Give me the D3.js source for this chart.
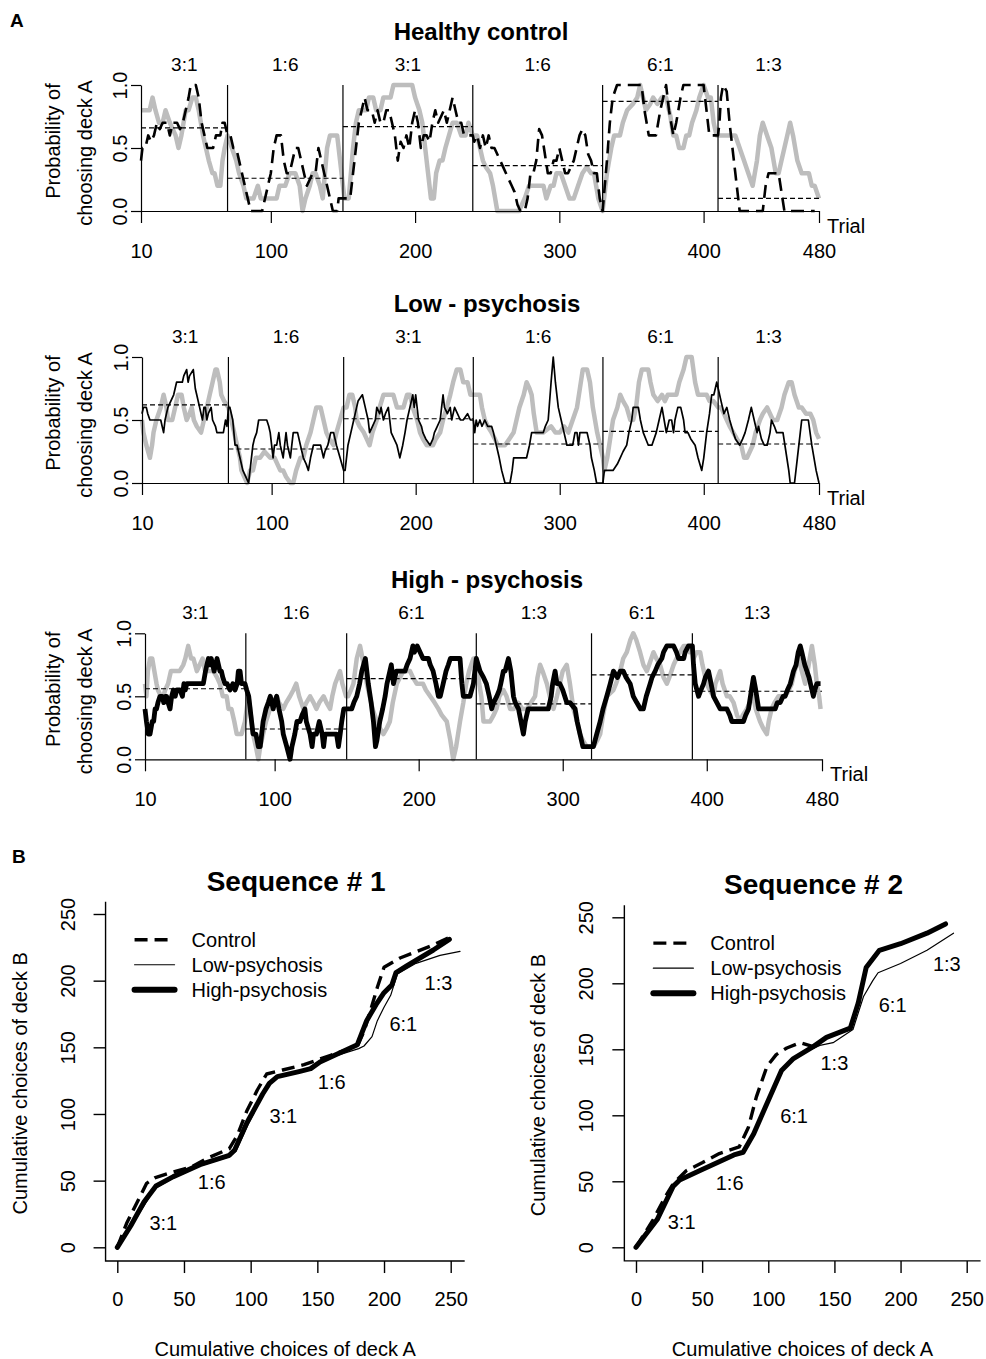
<!DOCTYPE html>
<html>
<head>
<meta charset="utf-8">
<script src="https://cdn.jsdelivr.net/npm/d3@7"></script>
<style>
  body { margin: 0; background: #fff; }
  svg { display: block; }
</style>
</head>
<body>
<div id="chart"></div>
<script>

// ---- panel A data: moving probability of choosing deck A, [trial, value] ----

let trialTicks = [10, 100, 200, 300, 400, 480];
let probTicks = [0, 0.5, 1];

let hcBounds = [70, 150, 240, 330, 410];
let hcBlocks = ["3:1", "1:6", "3:1", "1:6", "6:1", "1:3"];
let hcMeans = [0.66, 0.26, 0.67, 0.36, 0.87, 0.10];

let hcGray = [
  [10,0.8],[16,0.8],[18,0.9],[20,0.8],[22.5,0.7],[25,0.7],[27,0.8],[30,0.7],[32,0.65],[34,0.6],[36,0.5],[38,0.6],
  [41,0.8],[43,0.8],[45.6,0.9],[48,0.9],[50,0.8],[53,0.6],[55,0.5],[57,0.4],[59.5,0.3],[61,0.3],[63,0.2],[65,0.2],
  [66.5,0.4],[68,0.5],[70,0.6],[73,0.5],[76,0.4],[78,0.3],[81,0.2],[83,0.1],[88,0.1],[91,0.2],[93,0.1],[104,0.1],
  [106,0.2],[110,0.2],[113,0.3],[117,0.3],[120,0.2],[122,0.0],[124,0.1],[127,0.2],[129,0.3],[131,0.3],[134,0.2],
  [136,0.1],[137.5,0.3],[139,0.5],[141,0.6],[146,0.6],[148,0.4],[150,0.2],[151,0.1],[154,0.1],[157,0.5],[159,0.7],
  [161,0.8],[166,0.8],[168,0.9],[171,0.9],[173,0.8],[176,0.8],[178,0.9],[183,0.9],[185,1.0],[198,1.0],[200,0.9],
  [203,0.8],[205,0.7],[207,0.5],[209,0.3],[211,0.1],[213,0.1],[214.6,0.3],[217,0.4],[219,0.4],[221,0.5],[223.5,0.6],
  [226,0.7],[229,0.7],[232,0.6],[235,0.6],[237,0.7],[240,0.6],[243,0.6],[245,0.5],[247,0.4],[249,0.35],[252,0.3],
  [254,0.2],[257,0.0],[272,0.0],[276,0.1],[279,0.2],[289,0.2],[291,0.1],[294,0.2],[296,0.2],[298,0.3],[301,0.3],
  [304,0.2],[307,0.1],[310,0.1],[313,0.2],[316,0.3],[319,0.35],[322,0.3],[324,0.3],[327,0.1],[330,0.0],[331,0.1],
  [333,0.3],[336,0.5],[338,0.6],[342,0.6],[344,0.7],[347,0.8],[351,0.85],[354,0.9],[356,1.0],[358,0.9],[360,0.8],
  [363,0.85],[365,0.9],[368,0.85],[371,0.9],[374,0.9],[377,0.75],[379,0.6],[381,0.6],[383,0.5],[386,0.5],[388,0.6],
  [390,0.6],[392,0.7],[395,0.8],[397,0.9],[400,1.0],[403,0.9],[405,0.9],[407,0.7],[409,0.6],[412,0.6],[422,0.6],
  [425,0.5],[428,0.4],[431,0.3],[434,0.2],[437,0.4],[439,0.6],[441,0.7],[444,0.6],[447,0.5],[450,0.3],[452,0.3],
  [454,0.4],[456,0.5],[458,0.6],[460,0.7],[462,0.6],[465,0.4],[468,0.3],[473,0.3],[475,0.2],[477,0.2],[480,0.1]
];

let hcBlack = [
  [10,0.4],[11,0.5],[13,0.5],[15,0.6],[17,0.55],[19,0.6],[21,0.7],[23,0.65],[25,0.7],[28,0.7],[30,0.6],[32,0.7],
  [35,0.7],[37,0.65],[39,0.7],[41,0.8],[43,0.9],[44.5,1.0],[48,1.0],[50,0.9],[52,0.7],[54,0.6],[56,0.5],[60,0.5],
  [62,0.6],[65,0.6],[66.5,0.7],[68,0.7],[70,0.6],[72,0.6],[74,0.5],[76,0.5],[78,0.4],[80,0.3],[82,0.2],[84,0.1],
  [86,0.0],[94,0.0],[96,0.1],[98,0.2],[100,0.3],[102,0.5],[104,0.6],[107,0.6],[109,0.4],[111,0.3],[113,0.3],
  [115,0.4],[117,0.5],[119,0.5],[121,0.4],[123,0.3],[125,0.2],[127,0.25],[129,0.3],[131,0.3],[133,0.5],[135,0.4],
  [137,0.3],[139,0.2],[141,0.1],[143,0.0],[146,0.0],[147,0.1],[150,0.1],[155,0.1],[157,0.3],[159,0.5],[161,0.7],
  [163,0.8],[165,0.9],[167,0.8],[170,0.8],[172,0.7],[174,0.8],[176,0.7],[178,0.7],[180,0.8],[182,0.8],[184,0.7],
  [186,0.6],[188,0.4],[190,0.55],[192,0.5],[194,0.6],[196,0.5],[198,0.7],[200,0.8],[202,0.7],[204,0.5],[206,0.6],
  [208,0.6],[210,0.55],[212,0.7],[214,0.8],[216,0.7],[218,0.75],[220,0.8],[222,0.7],[224,0.8],[226,0.9],[228,0.8],
  [230,0.7],[232,0.7],[234,0.6],[240,0.6],[241,0.55],[243,0.6],[245,0.5],[247,0.6],[249,0.5],[251,0.6],[253,0.5],
  [255,0.5],[257,0.45],[259,0.4],[261,0.35],[263,0.3],[265,0.25],[267,0.2],[269,0.15],[271,0.05],[273,0.0],
  [276,0.0],[278,0.1],[280,0.3],[282,0.3],[284,0.4],[286,0.65],[288,0.6],[290,0.45],[292,0.3],[294,0.3],[296,0.4],
  [298,0.4],[300,0.5],[302,0.4],[304,0.3],[306,0.3],[308,0.35],[310,0.4],[312,0.5],[314,0.6],[316,0.65],[318,0.6],
  [320,0.45],[322,0.4],[324,0.3],[326,0.3],[328,0.1],[330,0.0],[333,0.4],[335,0.7],[337,0.9],[340,1.0],[357,1.0],
  [359,0.8],[362,0.6],[367,0.6],[370,0.8],[374,1.0],[376,0.8],[379,0.6],[381,0.7],[384,0.9],[386,1.0],[400,1.0],
  [402,0.8],[404,0.6],[410,0.6],[411,0.7],[412,0.9],[413.5,1.0],[416,0.95],[418,0.7],[420,0.5],[422,0.3],[424,0.1],
  [425,0.0],[441,0.0],[443,0.2],[445,0.3],[452,0.3],[454,0.15],[456,0.0],[477,0.0]
];

let lpBounds = [70, 150, 240, 330, 410];
let lpBlocks = ["3:1", "1:6", "3:1", "1:6", "6:1", "1:3"];
let lpMeans = [0.62, 0.27, 0.51, 0.31, 0.41, 0.31];

let lpGray = [
  [10,0.5],[11,0.4],[13,0.3],[15.5,0.2],[17,0.3],[18,0.4],[20,0.5],[23,0.6],[25,0.7],[27,0.6],[28,0.5],[31,0.5],
  [33,0.6],[35,0.7],[37.5,0.7],[39,0.6],[41,0.5],[43,0.55],[44.5,0.6],[46,0.5],[48,0.45],[51,0.4],[53,0.5],[55,0.6],
  [57,0.7],[59,0.8],[61,0.9],[62,0.9],[64,0.8],[65,0.7],[67,0.65],[70,0.6],[72,0.5],[74,0.4],[76,0.3],[78,0.2],
  [79,0.1],[81,0.05],[83,0.0],[85,0.1],[87,0.1],[89,0.2],[92,0.2],[95,0.25],[99,0.2],[102,0.2],[104,0.15],[106,0.1],
  [108,0.1],[110,0.05],[113,0.0],[115,0.0],[117,0.1],[120,0.2],[122,0.2],[124,0.3],[127,0.4],[129,0.5],[131,0.6],
  [134,0.6],[136,0.5],[138,0.4],[140,0.35],[143,0.3],[145,0.4],[147.5,0.5],[150,0.6],[152,0.6],[154,0.7],[156,0.7],
  [158,0.6],[159,0.5],[161,0.45],[164,0.4],[166,0.35],[168,0.3],[170,0.4],[173,0.5],[175,0.6],[177.6,0.7],
  [184.5,0.7],[187,0.6],[191.5,0.6],[194,0.7],[196,0.7],[198,0.6],[201,0.5],[203,0.4],[205,0.35],[207.7,0.3],
  [212,0.3],[214,0.35],[217,0.4],[219,0.5],[221.6,0.6],[224,0.7],[226,0.8],[228.5,0.9],[231,0.9],[233,0.8],
  [236,0.8],[238,0.7],[244.6,0.7],[246,0.6],[248,0.5],[250,0.45],[252.7,0.4],[255,0.35],[257,0.3],[262,0.3],
  [265,0.35],[268,0.4],[270,0.5],[272,0.6],[275,0.7],[277,0.8],[279,0.75],[280.5,0.7],[282,0.55],[284,0.4],
  [288.6,0.4],[294,0.45],[297,0.4],[300,0.4],[303,0.45],[306,0.4],[309,0.5],[312,0.6],[314,0.75],[316,0.9],
  [319,0.9],[321,0.8],[323,0.6],[326,0.4],[328,0.3],[330,0.2],[331,0.1],[333,0.2],[335,0.35],[337,0.5],[340,0.6],
  [342,0.7],[344,0.65],[346.5,0.6],[349,0.5],[351,0.5],[353,0.6],[355,0.8],[357,0.9],[361.5,0.9],[363,0.8],
  [365,0.7],[368,0.65],[371,0.7],[373,0.65],[375,0.7],[381,0.7],[383,0.8],[386,0.9],[388,1.0],[391.6,1.0],
  [394,0.8],[396,0.7],[402,0.7],[404,0.65],[406.7,0.65],[410,0.6],[412,0.6],[416,0.5],[418,0.45],[420.5,0.4],
  [423,0.35],[426,0.3],[428,0.2],[430,0.2],[432,0.25],[434,0.3],[436,0.4],[439,0.5],[441,0.55],[444,0.6],
  [446,0.55],[448,0.5],[451,0.5],[454,0.6],[456,0.7],[459,0.8],[461,0.8],[463,0.7],[466,0.6],[468,0.6],
  [471,0.55],[474,0.55],[476,0.5],[478,0.4],[480,0.35]
];

let lpBlack = [
  [10,0.55],[11,0.6],[13,0.6],[14,0.55],[15.5,0.5],[23,0.5],[25,0.4],[26,0.5],[28,0.6],[30,0.65],[32,0.7],
  [33,0.75],[34,0.8],[38,0.8],[39,0.85],[41,0.9],[42,0.8],[43,0.85],[45.6,0.9],[47,0.75],[48,0.7],[50,0.6],
  [51,0.55],[52,0.5],[53,0.6],[54,0.6],[55,0.5],[56,0.55],[58,0.6],[59,0.5],[61,0.45],[62,0.4],[66.5,0.4],
  [68,0.5],[69,0.45],[70,0.6],[71,0.6],[72,0.55],[73,0.5],[74.6,0.3],[76,0.3],[78,0.2],[80,0.1],[82,0.05],
  [84,0.0],[85,0.1],[87,0.3],[88,0.35],[89.6,0.4],[91,0.5],[96.6,0.5],[98,0.45],[99,0.4],[101,0.2],[102,0.3],
  [103.5,0.3],[105,0.4],[106,0.3],[108,0.2],[109,0.3],[110,0.4],[111,0.3],[113,0.2],[114,0.3],[115,0.4],
  [118,0.4],[120,0.3],[122,0.2],[124,0.15],[125.5,0.1],[127,0.2],[129,0.3],[134,0.3],[136,0.2],[137,0.25],
  [139,0.3],[141,0.4],[143,0.4],[145,0.3],[147.5,0.2],[150,0.1],[151,0.1],[153,0.3],[155,0.4],[157,0.5],
  [159,0.6],[160,0.65],[163,0.7],[165,0.6],[167,0.5],[168,0.4],[170,0.45],[172,0.5],[173,0.6],[175,0.55],
  [176,0.6],[177.6,0.5],[179,0.55],[181,0.6],[183,0.4],[185,0.35],[187,0.3],[189,0.2],[191,0.3],[192.6,0.4],
  [194,0.5],[196,0.6],[198,0.7],[199,0.6],[200,0.7],[202,0.5],[204,0.45],[205,0.4],[207,0.35],[210,0.3],
  [212,0.35],[213,0.4],[215,0.45],[217,0.5],[218,0.6],[219,0.7],[220,0.6],[222,0.55],[224,0.6],[225,0.5],
  [227,0.6],[229,0.55],[231,0.5],[233,0.5],[236,0.55],[238,0.5],[240,0.5],[241,0.4],[242,0.5],[243,0.45],
  [244.6,0.5],[246,0.45],[248,0.5],[250,0.45],[252.7,0.45],[254,0.4],[256,0.3],[258,0.2],[259.7,0.1],[262,0.0],
  [265.5,0.0],[267,0.1],[268,0.2],[277,0.2],[279,0.3],[280.5,0.4],[288.6,0.4],[290,0.45],[292,0.5],[294,0.8],
  [295.5,1.0],[297,0.8],[299,0.6],[301,0.5],[303,0.4],[305,0.3],[309,0.3],[310.6,0.4],[312,0.4],[313,0.3],
  [314,0.4],[319,0.4],[321,0.3],[322,0.2],[324,0.1],[325.6,0.0],[330,0.0],[331,0.1],[337,0.1],[340,0.15],
  [342,0.2],[344,0.25],[346.5,0.3],[348,0.4],[350,0.5],[351,0.6],[354.6,0.6],[356,0.5],[358,0.4],[361.5,0.3],
  [364,0.3],[367,0.4],[369,0.5],[371,0.6],[372.5,0.5],[374,0.4],[376,0.5],[377.7,0.5],[379,0.4],[380,0.5],
  [382,0.6],[384,0.6],[386,0.5],[387,0.4],[389,0.4],[391,0.35],[394,0.3],[396,0.2],[398.6,0.1],[400,0.2],
  [402,0.4],[404,0.55],[405.5,0.7],[407,0.7],[409,0.8],[410,0.75],[411,0.7],[412,0.65],[413,0.6],[414,0.55],
  [416,0.6],[418,0.5],[420.5,0.4],[422,0.35],[425,0.3],[427,0.35],[428.7,0.4],[431,0.5],[433,0.6],[435,0.5],
  [437,0.4],[438,0.45],[440,0.35],[442,0.3],[444,0.3],[446,0.4],[447,0.5],[449,0.45],[450.6,0.4],[455,0.4],
  [457,0.25],[459,0.1],[460,0.0],[463,0.0],[465,0.2],[467,0.4],[468,0.5],[472.6,0.5],[475,0.3],[478,0.1],[480,0.0]
];

let hpBounds = [80, 150, 240, 320, 390];
let hpBlocks = ["3:1", "1:6", "6:1", "1:3", "6:1", "1:3"];
let hpMeans = [0.56, 0.24, 0.64, 0.44, 0.67, 0.54];

let hpGray = [
  [10,0.6],[11,0.5],[12,0.7],[13.5,0.8],[15,0.8],[16.5,0.7],[18,0.6],[19,0.55],[21,0.5],[22.7,0.5],[24,0.55],
  [26,0.6],[28,0.7],[34,0.7],[36.6,0.75],[38,0.8],[40,0.9],[42,0.8],[43.6,0.8],[46,0.7],[48,0.75],[50,0.8],
  [51.7,0.7],[57.5,0.7],[60,0.65],[62,0.6],[64,0.5],[66.7,0.5],[68,0.4],[70,0.4],[72,0.3],[73.7,0.2],[77,0.2],
  [79.4,0.3],[81.8,0.5],[83,0.4],[85,0.2],[87,0.1],[88.7,0.0],[90,0.1],[92,0.2],[94,0.3],[96.8,0.4],[99,0.45],
  [101.4,0.5],[103,0.45],[106,0.4],[108,0.45],[110.7,0.5],[113,0.55],[115,0.6],[117,0.5],[120,0.4],[122,0.45],
  [124.6,0.5],[127,0.45],[129,0.4],[131,0.45],[134,0.5],[136,0.45],[138.5,0.4],[140,0.5],[142,0.6],[145.4,0.7],
  [147,0.6],[149.6,0.5],[151,0.5],[153,0.55],[154.7,0.6],[157,0.8],[159.3,0.9],[161,0.8],[162.8,0.7],[164,0.6],
  [166,0.5],[168,0.4],[171,0.3],[173,0.25],[175.5,0.2],[178,0.25],[180,0.3],[182,0.45],[184.8,0.6],[187,0.65],
  [189.4,0.7],[194,0.7],[196,0.65],[198.7,0.6],[203,0.6],[205,0.55],[208,0.5],[211,0.45],[213.7,0.4],[216,0.35],
  [219.5,0.3],[222,0.15],[224,0.0],[226,0.1],[228.7,0.3],[231,0.45],[233,0.6],[235,0.7],[238,0.8],[240,0.8],
  [242,0.6],[243.5,0.5],[245,0.3],[249.6,0.3],[252,0.35],[254,0.4],[256,0.5],[258.8,0.55],[261,0.5],[263.5,0.4],
  [266,0.4],[269,0.45],[272,0.4],[275,0.4],[278,0.45],[280.8,0.5],[282.5,0.65],[284.3,0.75],[286,0.7],[289,0.6],
  [291,0.5],[293.6,0.4],[296,0.5],[298,0.6],[300,0.7],[302.8,0.75],[305,0.6],[307.4,0.4],[310,0.3],[312,0.2],
  [314,0.15],[316.7,0.1],[321.3,0.1],[324,0.15],[326,0.2],[328,0.35],[330.6,0.5],[335.2,0.55],[337,0.6],
  [339.9,0.7],[342,0.8],[344.5,0.85],[347,0.95],[349,1.0],[351,0.95],[353.7,0.85],[356,0.75],[358.4,0.7],
  [360,0.75],[363,0.85],[365,0.8],[367.6,0.75],[370,0.65],[372.3,0.6],[374,0.65],[377,0.75],[379,0.8],
  [381.5,0.85],[384,0.9],[386,0.9],[388,0.85],[390,0.9],[390.8,0.8],[393,0.85],[395.4,0.85],[397,0.75],[400,0.6],
  [402,0.55],[404.7,0.5],[406,0.6],[409.3,0.7],[411,0.6],[414,0.5],[416,0.5],[418.6,0.45],[421,0.35],[423.2,0.3],
  [425,0.35],[427.8,0.4],[430,0.45],[432.4,0.5],[434,0.4],[437,0.3],[439,0.25],[441.7,0.2],[443,0.3],[445,0.4],
  [447,0.45],[449.8,0.5],[454.4,0.5],[457,0.55],[459,0.6],[461,0.7],[463.7,0.8],[466,0.7],[468.3,0.6],[470,0.7],
  [471.5,0.8],[473,0.9],[475,0.75],[476.4,0.6],[478,0.5],[479,0.4]
];

let hpBlack = [
  [10,0.4],[11,0.3],[12.3,0.2],[13.5,0.2],[15,0.3],[16,0.3],[17,0.4],[18,0.4],[19,0.45],[20.4,0.5],[22,0.5],
  [23,0.45],[24,0.5],[25,0.5],[26,0.45],[27.4,0.4],[28.5,0.5],[29.7,0.55],[31,0.5],[32,0.55],[34.3,0.55],[36,0.5],
  [37,0.6],[38,0.55],[39,0.6],[50.5,0.6],[52,0.7],[54,0.8],[55,0.75],[56,0.8],[58,0.7],[59,0.75],[60,0.8],
  [61,0.75],[62,0.7],[63,0.7],[64,0.65],[65.5,0.6],[67,0.6],[69,0.55],[71,0.6],[72.5,0.55],[74,0.6],[74.8,0.7],
  [76,0.7],[77,0.6],[79.4,0.6],[80.6,0.55],[82,0.5],[83.5,0.35],[85,0.2],[87,0.2],[88.7,0.1],[90,0.1],[92,0.3],
  [94,0.4],[95.6,0.45],[97,0.5],[98,0.45],[99,0.4],[100,0.45],[101.4,0.5],[103,0.4],[104.9,0.3],[106,0.2],
  [108.4,0.1],[110.7,0.0],[112,0.1],[114,0.2],[115.5,0.3],[117.6,0.3],[119,0.35],[121,0.4],[122,0.3],[124.6,0.2],
  [126,0.1],[127,0.2],[129,0.2],[131,0.3],[133,0.2],[134,0.1],[135,0.2],[143,0.2],[144.3,0.1],[145.5,0.2],
  [146.6,0.3],[148,0.4],[153.5,0.4],[155,0.45],[157,0.5],[159,0.6],[160.5,0.7],[163,0.8],[164,0.7],[165,0.6],
  [167,0.45],[168.6,0.3],[170,0.1],[171,0.15],[173,0.3],[175,0.4],[176.7,0.5],[178,0.6],[180,0.7],[181,0.75],
  [182.5,0.6],[183.5,0.65],[184.5,0.7],[190.5,0.7],[192,0.75],[194,0.8],[196,0.9],[197,0.85],[199,0.9],[201,0.85],
  [203,0.8],[206.8,0.8],[208,0.75],[210,0.7],[212,0.6],[213.7,0.5],[215,0.5],[217,0.6],[219,0.7],[220.6,0.75],
  [222,0.8],[228.7,0.8],[230,0.6],[231,0.5],[235.6,0.5],[238,0.6],[240,0.8],[242.6,0.7],[245,0.65],[247,0.6],
  [249,0.5],[250.7,0.4],[252,0.45],[254.2,0.5],[256,0.55],[257,0.6],[258.8,0.7],[260,0.7],[262.3,0.8],[264,0.7],
  [265.8,0.5],[267,0.45],[269.3,0.4],[271,0.3],[272.7,0.2],[274,0.3],[276,0.4],[290,0.4],[292,0.5],[293,0.6],
  [294.7,0.7],[296,0.6],[298,0.6],[300,0.55],[302.8,0.45],[305,0.45],[308.6,0.4],[310,0.3],[312,0.2],[314,0.1],
  [321.3,0.1],[323.6,0.2],[326,0.3],[328,0.4],[330.6,0.5],[333,0.6],[335.2,0.7],[338,0.65],[340,0.7],[342,0.7],
  [344,0.65],[346.8,0.6],[349,0.5],[351.4,0.45],[354,0.4],[356,0.4],[358,0.5],[360.7,0.6],[362,0.65],[364.2,0.7],
  [366,0.75],[368.8,0.8],[370,0.85],[372.3,0.9],[377,0.9],[379,0.85],[380.4,0.8],[384,0.8],[385,0.85],[387.3,0.9],
  [390,0.9],[390.8,0.75],[392,0.6],[394.3,0.5],[396,0.55],[397.8,0.6],[399,0.65],[401.2,0.7],[403,0.6],
  [404.7,0.5],[407,0.45],[409.3,0.4],[414,0.4],[416,0.35],[417.4,0.3],[425.5,0.3],[427,0.35],[429,0.4],
  [431,0.55],[432.4,0.65],[434,0.55],[436,0.4],[447.5,0.4],[449,0.45],[451,0.45],[453,0.5],[454.4,0.5],
  [456,0.55],[458,0.6],[460.2,0.7],[462,0.75],[463.5,0.85],[464.9,0.9],[466,0.85],[468,0.75],[469.5,0.7],
  [471,0.65],[472,0.6],[474,0.5],[475,0.55],[476.4,0.6],[479,0.6]
];

// ---- panel B data: cumulative choices, [deck A, deck B] ----

let cumTicks = [0, 50, 100, 150, 200, 250];

let seq1Control = [
  [0,0],[7,18],[15,34],[22,48],[28,52],[40,56],[55,60],[68,67],[84,74],[90,84],[97,102],[105,118],[112,130],
  [124,133],[140,137],[160,144],[180,151],[185,162],[190,178],[195,195],[200,210],[212,217],[225,222],
  [235,226],[248,232]
];
let seq1Low = [
  [0,0],[10,15],[20,31],[28,44],[42,52],[62,61],[84,68],[89,72],[98,92],[109,114],[115,124],[121,128],
  [137,132],[145,134],[152,138],[165,144],[181,149],[185,151],[191,158],[195,170],[200,180],[205,189],
  [210,205],[224,213],[242,219],[257,222]
];
let seq1High = [
  [0,0],[10,16],[20,34],[29,46],[42,53],[62,62],[84,69],[88,73],[97,93],[109,115],[114,123],[120,128],
  [137,132],[145,134],[152,139],[165,145],[180,152],[187,170],[194,182],[200,191],[206,197],[209,206],
  [217,211],[237,223],[249,231]
];
let seq1BlockText = ["3:1", "1:6", "3:1", "1:6", "6:1", "1:3"];
let seq1BlockAt = [[34.5,18.5],[70.8,49.3],[124.5,98.8],[160.8,123.8],[214.5,168],[240.8,198.5]];

let seq2Control = [
  [0,0],[13,21],[22,38],[28,48],[38,58],[50,64],[63,71],[78,76],[85,91],[91,114],[99,137],[106,146],
  [114,151],[124,155],[134,152],[144,159],[162,166],[168,185],[174,212],[184,225],[200,230],[220,238],[234,245]
];
let seq2Low = [
  [0,0],[16,21],[28,48],[48,59],[81,72],[91,91],[101,112],[110,134],[124,146],[139,153],[149,155],
  [164,165],[172,190],[179,202],[183,208],[200,215],[220,225],[240,238]
];
let seq2High = [
  [0,0],[16,21],[28,46],[33,51],[48,58],[74,70],[81,72],[89,86],[99,109],[110,134],[119,143],[134,152],
  [144,159],[162,166],[168,185],[174,212],[184,225],[200,230],[220,238],[234,245]
];
let seq2BlockText = ["3:1", "1:6", "6:1", "1:3", "6:1", "1:3"];
let seq2BlockAt = [[34.5,19],[70.8,49.2],[119.5,99.7],[150,140],[194,184],[235,214.6]];

let legendNames = ["Control", "Low-psychosis", "High-psychosis"];

// ---- drawing ----

const font = '"Liberation Sans", Arial, Helvetica, sans-serif';

let svg = d3.select("#chart")
  .append("svg")
    .attr("width", 986)
    .attr("height", 1359)
    .style("font-family", font);

let groupStyle = {
  control: { width: 2.6, dash: "13,7" },
  low: { width: 1.7, dash: null },
  high: { width: 4.8, dash: null }
};

svg.append("text").attr("x", 10).attr("y", 27)
  .style("font-size", "19px").style("font-weight", "bold").text("A");
svg.append("text").attr("x", 12).attr("y", 863)
  .style("font-size", "19px").style("font-weight", "bold").text("B");

let panels = [
  { title: "Healthy control", tx: 481, top: 85, x0: 141, x1: 819, gray: hcGray, black: hcBlack, kind: "control", bounds: hcBounds, blocks: hcBlocks, means: hcMeans },
  { title: "Low - psychosis", tx: 487, top: 357, x0: 142, x1: 819, gray: lpGray, black: lpBlack, kind: "low", bounds: lpBounds, blocks: lpBlocks, means: lpMeans },
  { title: "High - psychosis", tx: 487, top: 633.3, x0: 145, x1: 822, gray: hpGray, black: hpBlack, kind: "high", bounds: hpBounds, blocks: hpBlocks, means: hpMeans }
];

panels.forEach(p => {
  let x = d3.scaleLinear().domain([10, 480]).range([p.x0, p.x1]);
  let y = d3.scaleLinear().domain([0, 1]).range([p.top + 126, p.top]);
  let g = svg.append("g");
  let edges = [10, ...p.bounds, 480];

  let line = d3.line()
    .x(d => x(d[0]))
    .y(d => y(d[1]));

  // gray series
  g.append("path")
    .datum(p.gray)
    .attr("fill", "none")
    .attr("stroke", "#bdbdbd")
    .attr("stroke-width", 4.5)
    .attr("stroke-linejoin", "round")
    .attr("d", line);

  // black series
  let st = groupStyle[p.kind];
  g.append("path")
    .datum(p.black)
    .attr("fill", "none")
    .attr("stroke", "#000")
    .attr("stroke-width", st.width)
    .attr("stroke-linejoin", "round")
    .attr("stroke-dasharray", st.dash)
    .attr("d", line);

  // block boundaries
  g.selectAll(".bound")
    .data(p.bounds)
    .join("line")
    .attr("x1", d => x(d)).attr("x2", d => x(d))
    .attr("y1", y(0)).attr("y2", y(1))
    .attr("stroke", "#000")
    .attr("stroke-width", 1.2);

  // block means
  g.selectAll(".mean")
    .data(p.means)
    .join("line")
    .attr("x1", (d, i) => x(edges[i])).attr("x2", (d, i) => x(edges[i + 1]))
    .attr("y1", d => y(d)).attr("y2", d => y(d))
    .attr("stroke", "#000")
    .attr("stroke-width", 1.1)
    .attr("stroke-dasharray", "5,3");

  // block ratio labels
  g.selectAll(".blk")
    .data(p.blocks)
    .join("text")
    .attr("x", (d, i) => x((edges[i] + edges[i + 1]) / 2))
    .attr("y", p.top - 14)
    .attr("text-anchor", "middle")
    .style("font-size", "19px")
    .text(d => d);

  // title
  g.append("text")
    .attr("x", p.tx)
    .attr("y", p.top - 45.5)
    .attr("text-anchor", "middle")
    .style("font-size", "24px")
    .style("font-weight", "bold")
    .text(p.title);

  // x axis
  g.append("g")
    .attr("transform", `translate(0,${y(0)})`)
    .call(d3.axisBottom(x).tickValues(trialTicks).tickSize(12).tickSizeOuter(0))
    .call(a => {
      a.attr("font-family", font).attr("font-size", 20);
      a.select(".domain").attr("stroke-width", 1.2);
      a.selectAll(".tick line").attr("stroke-width", 1.2);
      a.selectAll(".tick text").attr("y", 47).attr("dy", null).attr("fill", "#000");
    });

  g.append("text")
    .attr("x", x(480) + 8)
    .attr("y", y(0) + 22)
    .style("font-size", "20px")
    .text("Trial");

  // y axis
  g.append("g")
    .attr("transform", `translate(${p.x0},0)`)
    .call(d3.axisLeft(y).tickValues(probTicks).tickSize(10).tickSizeOuter(0).tickFormat(d3.format(".1f")))
    .call(a => {
      a.attr("font-family", font).attr("font-size", 20);
      a.select(".domain").attr("stroke-width", 1.2);
      a.selectAll(".tick line").attr("stroke-width", 1.2);
      a.selectAll(".tick text")
        .attr("transform", "rotate(-90)")
        .attr("x", 0)
        .attr("y", -14)
        .attr("dy", null)
        .attr("text-anchor", "middle")
        .attr("fill", "#000");
    });

  [["Probability of", 60, 56], ["choosing deck A", 92, 68]].forEach(([t, bx, dy]) => {
    g.append("text")
      .attr("transform", `translate(${bx},${p.top + dy}) rotate(-90)`)
      .attr("text-anchor", "middle")
      .style("font-size", "20px")
      .text(t);
  });
});

// ---- panel B ----

let seqPanels = [
  { title: "Sequence # 1", xr: [117.3, 450.7], yr: [1247.3, 914], control: seq1Control, low: seq1Low, high: seq1High, text: seq1BlockText, at: seq1BlockAt },
  { title: "Sequence # 2", xr: [636, 966.7], yr: [1247.3, 917.3], control: seq2Control, low: seq2Low, high: seq2High, text: seq2BlockText, at: seq2BlockAt }
];

let seqStyle = {
  control: { width: 3.4, dash: "13,7" },
  low: { width: 1.2, dash: null },
  high: { width: 5, dash: null }
};

seqPanels.forEach(p => {
  let x = d3.scaleLinear().domain([0, 250]).range(p.xr);
  let y = d3.scaleLinear().domain([0, 250]).range(p.yr);
  let g = svg.append("g");

  let left = x(-8.8), right = x(260.5), top = y(259.2), bottom = y(-10.3);
  let midX = (left + right) / 2;

  let line = d3.line()
    .x(d => x(d[0]))
    .y(d => y(d[1]));

  ["high", "low", "control"].forEach(k => {
    g.append("path")
      .datum(p[k])
      .attr("fill", "none")
      .attr("stroke", "#000")
      .attr("stroke-width", seqStyle[k].width)
      .attr("stroke-linejoin", "round")
      .attr("stroke-linecap", k === "control" ? "butt" : "round")
      .attr("stroke-dasharray", seqStyle[k].dash)
      .attr("d", line);
  });

  // L-shaped box
  g.append("path")
    .attr("d", `M${left},${top}V${bottom}H${right}`)
    .attr("fill", "none")
    .attr("stroke", "#000")
    .attr("stroke-width", 1.4);

  // x axis ticks
  g.append("g")
    .attr("transform", `translate(0,${bottom})`)
    .call(d3.axisBottom(x).tickValues(cumTicks).tickSize(12).tickSizeOuter(0))
    .call(a => {
      a.attr("font-family", font).attr("font-size", 20);
      a.select(".domain").remove();
      a.selectAll(".tick line").attr("stroke-width", 1.4);
      a.selectAll(".tick text").attr("y", 45).attr("dy", null).attr("fill", "#000");
    });

  // y axis ticks
  g.append("g")
    .attr("transform", `translate(${left},0)`)
    .call(d3.axisLeft(y).tickValues(cumTicks).tickSize(12).tickSizeOuter(0))
    .call(a => {
      a.attr("font-family", font).attr("font-size", 20);
      a.select(".domain").remove();
      a.selectAll(".tick line").attr("stroke-width", 1.4);
      a.selectAll(".tick text")
        .attr("transform", "rotate(-90)")
        .attr("x", 0)
        .attr("y", -31)
        .attr("dy", null)
        .attr("text-anchor", "middle")
        .attr("fill", "#000");
    });

  // block ratio labels
  g.selectAll(".blk")
    .data(p.text)
    .join("text")
    .attr("x", (d, i) => x(p.at[i][0]))
    .attr("y", (d, i) => y(p.at[i][1]))
    .attr("dy", "0.36em")
    .attr("text-anchor", "middle")
    .style("font-size", "20px")
    .text(d => d);

  // title
  g.append("text")
    .attr("x", midX + 11)
    .attr("y", top - 11)
    .attr("text-anchor", "middle")
    .style("font-size", "28px")
    .style("font-weight", "bold")
    .text(p.title);

  // axis titles
  g.append("text")
    .attr("x", midX)
    .attr("y", 1356)
    .attr("text-anchor", "middle")
    .style("font-size", "20px")
    .text("Cumulative choices of deck A");

  g.append("text")
    .attr("transform", `translate(${left - 79},${(top + bottom) / 2 + 2}) rotate(-90)`)
    .attr("text-anchor", "middle")
    .style("font-size", "20px")
    .text("Cumulative choices of deck B");

  // legend
  let lg = g.append("g").attr("transform", `translate(${left + 29},${top + 45})`);
  ["control", "low", "high"].forEach((k, i) => {
    lg.append("line")
      .attr("x1", 0).attr("x2", 40)
      .attr("y1", i * 25 - 7).attr("y2", i * 25 - 7)
      .attr("stroke", "#000")
      .attr("stroke-width", k === "high" ? 6 : seqStyle[k].width)
      .attr("stroke-linecap", k === "control" ? "butt" : "round")
      .attr("stroke-dasharray", seqStyle[k].dash);
    lg.append("text")
      .attr("x", 57)
      .attr("y", i * 25)
      .style("font-size", "20px")
      .text(legendNames[i]);
  });
});

</script>
</body>
</html>
